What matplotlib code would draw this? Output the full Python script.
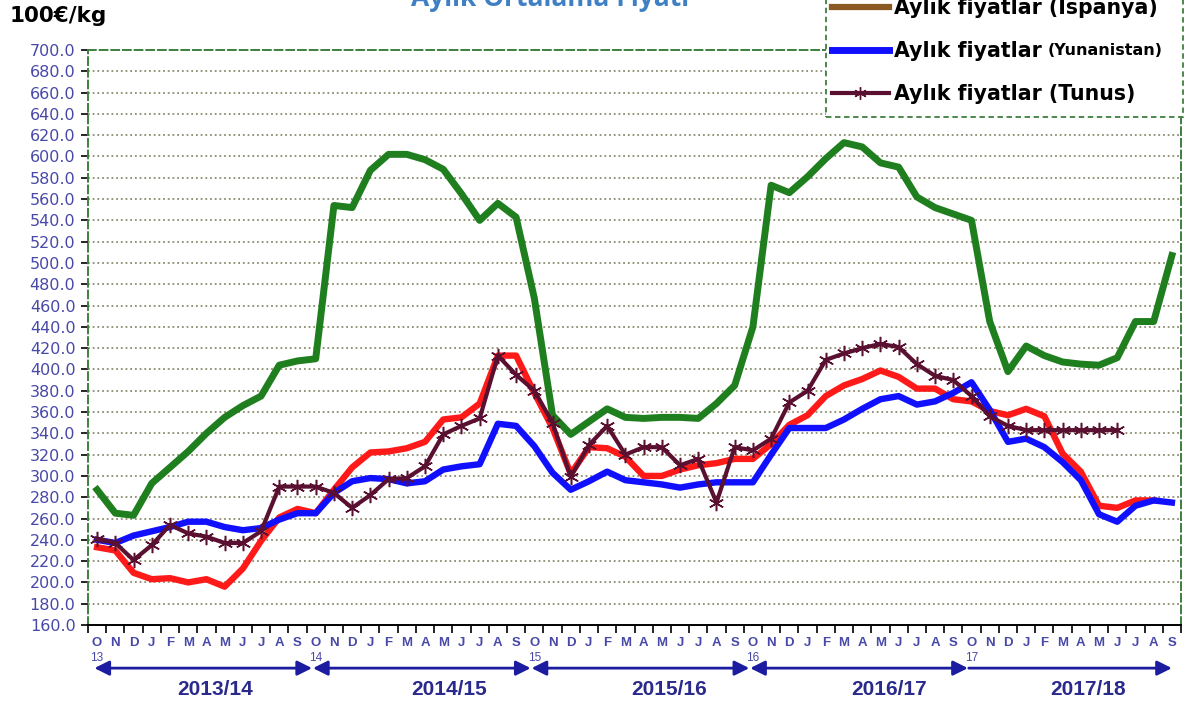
import matplotlib
matplotlib.use('Agg')
import matplotlib.pyplot as plt
from matplotlib.lines import Line2D
from matplotlib.patches import Rectangle
import numpy as np

# months Oct 2013 .. Sep 2018
months = ['O', 'N', 'D', 'J', 'F', 'M', 'A', 'M', 'J', 'J', 'A', 'S'] * 5
seasons = ['2013/14', '2014/15', '2015/16', '2016/17', '2017/18']
season_years = ['13', '14', '15', '16', '17']

italya = [287, 265, 263, 293, 308, 323, 340, 355, 366, 375, 404, 408, 410,
          554, 552, 587, 602, 602, 597, 588, 565, 540, 556, 543, 467, 357, 339,
          351, 363, 355, 354, 355, 355, 354, 368, 385, 440,
          573, 566, 581, 598, 613, 609, 594, 590, 562, 552,
          546, 540, 445, 398, 422, 413, 407, 405, 404, 411, 445, 445, 507]
ispanya = [233, 230, 209, 203, 204, 200, 203, 196, 213, 239, 261, 269, 265,
           287, 308, 322, 323, 326, 332, 353, 355, 368, 413, 413, 378, 345, 302,
           327, 326, 318, 300, 300, 306, 310, 312, 316, 316,
           330, 348, 357, 375, 385, 391, 399, 393, 382, 382,
           372, 370, 361, 357, 363, 356, 321, 304, 272, 270, 277, 277]
yunanistan = [240, 237, 244, 248, 252, 257, 257, 252, 249, 251, 259, 265, 265,
              284, 295, 298, 297, 293, 295, 306, 309, 311, 349, 347, 328, 303, 287,
              295, 304, 296, 294, 292, 289, 292, 294, 294, 294,
              320, 345, 345, 345, 353, 363, 372, 375, 367, 370,
              378, 388, 362, 332, 335, 327, 313, 296, 264, 257, 272, 277, 275]
tunus = [241, 237, 221, 235, 254, 246, 243, 237, 237, 248, 290, 290, 290,
         284, 270, 282, 297, 298, 309, 339, 347, 354, 413, 395, 380, 350, 299,
         329, 347, 320, 327, 327, 310, 316, 275, 327, 324,
         335, 369, 380, 409, 415, 420, 424, 421, 405, 394,
         390, 375, 356, 347, 343, 343, 343, 343, 343, 343]

GREEN = '#1f7f1f'
RED = '#ff1a1a'
BLUE = '#1010ff'
MAROON = '#5a1030'
BROWN = '#8b5a22'
TICKBLUE = '#4848a8'
NAVY = '#2a2a8c'
W, H = 1188, 704

fig = plt.figure(figsize=(11.88, 7.04), dpi=100)
ax = fig.add_axes([88 / W, 1 - 625 / H, (1181 - 88) / W, (625 - 50) / H])

x = np.arange(len(months))
ax.plot(x[:len(italya)], italya, color=GREEN, lw=5.0, solid_joinstyle='round', zorder=3)
ax.plot(x[:len(ispanya)], ispanya, color=RED, lw=4.6, solid_joinstyle='round', zorder=4)
ax.plot(x[:len(yunanistan)], yunanistan, color=BLUE, lw=4.6, solid_joinstyle='round', zorder=5)
ax.plot(x[:len(tunus)], tunus, color=MAROON, lw=3.0, marker=(6, 2, 0), ms=11, mew=1.1,
        solid_joinstyle='round', zorder=6)

ax.set_xlim(-0.5, len(months) - 0.5)
ax.set_ylim(160, 700)

# y axis
yt = np.arange(160, 701, 20)
ax.set_yticks(yt)
ax.set_yticklabels(['%.1f' % v for v in yt], color=TICKBLUE, fontsize=11.5,
                   family='DejaVu Sans')
ax.tick_params(axis='y', length=5, width=1.2, color='black', pad=4)
for v in yt[1:-1]:
    ax.axhline(v, color='#8c8c70', lw=1.3, ls=(0, (1, 1.6)), zorder=1)

# x axis: ticks on month boundaries, labels in the middle
ax.set_xticks(np.arange(-0.5, len(months), 1))
ax.set_xticklabels([])
ax.tick_params(axis='x', which='major', length=6, width=1.2, color='black', direction='out')
ax.set_xticks(x, minor=True)
ax.set_xticklabels(months, minor=True, color=TICKBLUE, fontsize=9.5,
                   family='Liberation Sans', fontweight='bold')
ax.tick_params(axis='x', which='minor', length=0, pad=9)

for sp in ['left', 'top', 'right']:
    ax.spines[sp].set_color('#3f7f3f')
    ax.spines[sp].set_linestyle((0, (4, 2)))
    ax.spines[sp].set_linewidth(1.4)
ax.spines['bottom'].set_color('black')
ax.spines['bottom'].set_linewidth(1.4)

# season arrows and labels below the axis
trans = ax.get_xaxis_transform()
label_off = [6.5, 7.3, 7.4, 7.5, 6.4]
for k, (s, yr) in enumerate(zip(seasons, season_years)):
    start = 12 * k
    end = start + 11.8 if k < len(seasons) - 1 else len(months) - 1.0
    style = '<|-|>' if k < len(seasons) - 1 else '-|>'
    ax.annotate('', xy=(end, -0.075), xytext=(start - 0.15, -0.075), xycoords=trans,
                textcoords=trans, annotation_clip=False,
                arrowprops=dict(arrowstyle=style, color='#1c1ca0', lw=2.0,
                                mutation_scale=22, shrinkA=0, shrinkB=0))
    ax.text(start, -0.057, yr, transform=trans, ha='center', va='center',
            color=TICKBLUE, fontsize=8.5, family='Liberation Sans')
    ax.text(start + label_off[k], -0.112, s, transform=trans, ha='center', va='center',
            color=NAVY, fontsize=15, family='Liberation Sans', fontweight='bold')

# header texts (cut at the top like the source image)
fig.text(10 / W, 1 - 16 / H, '100€/kg', ha='left', va='center', fontsize=15.5,
         family='DejaVu Sans', fontweight='bold')
fig.text(550 / W, 1 - 6 / H, 'Aylık Ortalama Fiyatı', ha='center', va='baseline',
         fontsize=19, color='#3f7fc4', family='Open Sans', fontweight='bold')

# legend box, running off the top edge as in the source
box = Rectangle((826 / W, 1 - 117 / H), (1183 - 826) / W, 140 / H, transform=fig.transFigure,
                facecolor='white', edgecolor='#3f7f3f', lw=1.3, ls=(0, (3, 2)), zorder=4)
fig.patches.append(box)

handles = [Line2D([], [], color=BROWN, lw=4.5),
           Line2D([], [], color=BLUE, lw=5),
           Line2D([], [], color=MAROON, lw=3, marker=(6, 2, 0), ms=9, mew=1)]
labels = ['Aylık fiyatlar (İspanya)', 'Aylık fiyatlar', 'Aylık fiyatlar (Tunus)']
leg = fig.legend(handles, labels, loc='lower left',
                 bbox_to_anchor=(826 / W, 1 - 110 / H), frameon=False,
                 prop={'family': 'DejaVu Sans', 'size': 14.8, 'weight': 'bold'},
                 handlelength=2.75, handletextpad=0.25, labelspacing=1.12,
                 borderpad=0.3, borderaxespad=0, numpoints=1)
leg.set_zorder(5)

# smaller country name after the second legend label
fig.canvas.draw()
bb = leg.get_texts()[1].get_window_extent()
fig.text((bb.x1 + 6) / fig.bbox.width, (bb.y0 + bb.y1) / 2 / fig.bbox.height,
         '(Yunanistan)', ha='left', va='center', fontsize=11.5, family='DejaVu Sans',
         fontweight='bold', zorder=10)

fig.savefig('out.png', dpi=100)
